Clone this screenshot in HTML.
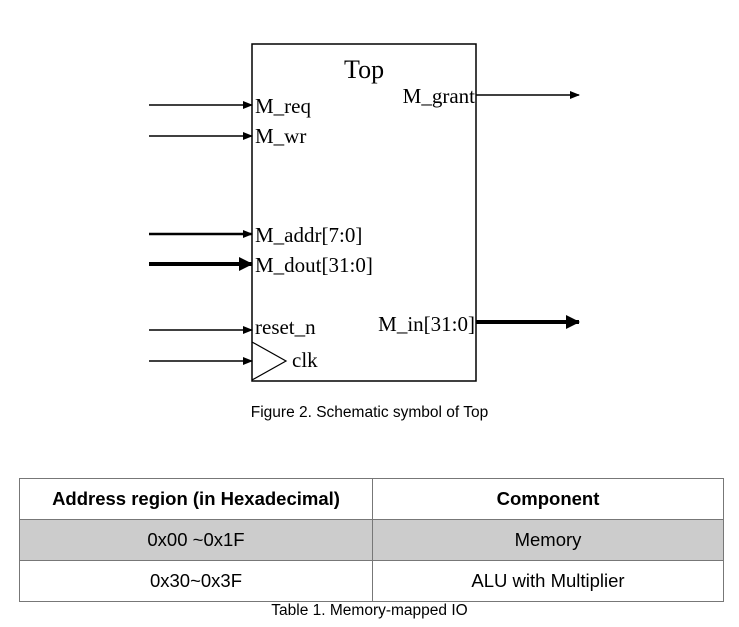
<!DOCTYPE html>
<html><head><meta charset="utf-8"><style>
body{margin:0;background:#fff;width:739px;height:627px;overflow:hidden;position:relative}
svg{position:absolute;left:0;top:0}
table{position:absolute;left:19px;top:478px;width:705px;border-collapse:collapse;font-family:"Liberation Sans",sans-serif;font-size:18.5px}
td{border:1px solid #777;height:40px;text-align:center;padding:0}
.cap{position:absolute;font-family:"Liberation Sans",sans-serif;font-size:15.5px;width:739px;text-align:center;left:0}
</style></head><body>
<svg width="739" height="627" font-family="'Liberation Serif',serif" font-size="21">
<defs><marker id="a" markerWidth="10" markerHeight="10" refX="9" refY="5" orient="auto" markerUnits="userSpaceOnUse"><path d="M0,1 L10,5 L0,9z" fill="#000"/></marker>
<marker id="b" markerWidth="14" markerHeight="14" refX="13" refY="7" orient="auto" markerUnits="userSpaceOnUse"><path d="M0,0 L14,7 L0,14z" fill="#000"/></marker></defs>
<rect x="252" y="44" width="224" height="337" fill="none" stroke="#000" stroke-width="1.5"/>
<text x="344" y="78" font-size="26">Top</text>
<g stroke="#000">
<line x1="149" y1="105" x2="252" y2="105" stroke-width="1.5" marker-end="url(#a)"/>
<line x1="149" y1="136" x2="252" y2="136" stroke-width="1.5" marker-end="url(#a)"/>
<line x1="149" y1="234" x2="252" y2="234" stroke-width="2.5" marker-end="url(#a)"/>
<line x1="149" y1="264" x2="252" y2="264" stroke-width="4" marker-end="url(#b)"/>
<line x1="149" y1="330" x2="252" y2="330" stroke-width="1.5" marker-end="url(#a)"/>
<line x1="149" y1="361" x2="252" y2="361" stroke-width="1.5" marker-end="url(#a)"/>
<line x1="476" y1="95" x2="579" y2="95" stroke-width="1.5" marker-end="url(#a)"/>
<line x1="476" y1="322" x2="579" y2="322" stroke-width="4" marker-end="url(#b)"/>
</g>
<path d="M252,342 L286,361 L252,380" fill="none" stroke="#000" stroke-width="1.2"/>
<text x="255" y="113">M_req</text>
<text x="255" y="143">M_wr</text>
<text x="255" y="242">M_addr[7:0]</text>
<text x="255" y="272">M_dout[31:0]</text>
<text x="255" y="334">reset_n</text>
<text x="292" y="367">clk</text>
<text x="475" y="103" text-anchor="end">M_grant</text>
<text x="475" y="331" text-anchor="end">M_in[31:0]</text>
</svg>
<div class="cap" style="top:404px">Figure 2. Schematic symbol of Top</div>
<table>
<tr><td style="font-weight:bold;width:352px">Address region (in Hexadecimal)</td><td style="font-weight:bold">Component</td></tr>
<tr style="background:#cccccc"><td>0x00 ~0x1F</td><td>Memory</td></tr>
<tr><td>0x30~0x3F</td><td>ALU with Multiplier</td></tr>
</table>
<div class="cap" style="top:602px">Table 1. Memory-mapped IO</div>
</body></html>
